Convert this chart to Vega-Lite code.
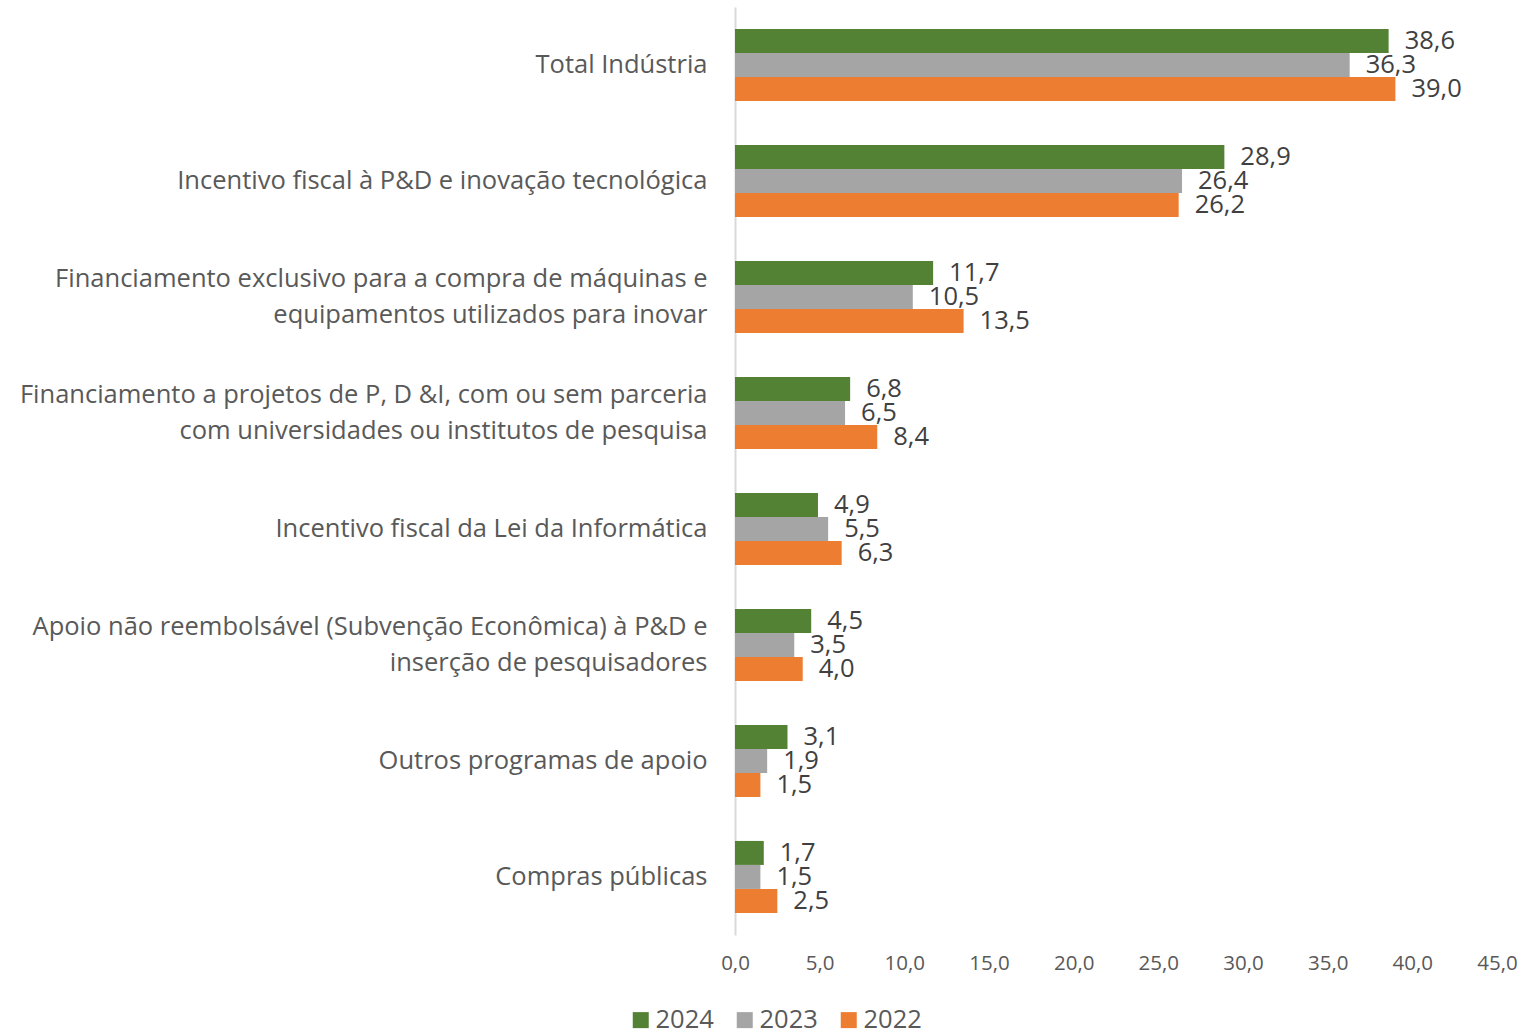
{
  "$schema": "https://vega.github.io/schema/vega-lite/v6.json",
  "width": 762,
  "height": 928,
  "autosize": {"type": "none"},
  "padding": {"left": 735, "top": 7, "right": 24, "bottom": 100},
  "background": "white",
  "config": {
    "locale": {"number": {"decimal": ",", "thousands": ".", "grouping": [3], "currency": ["R$", ""]}},
    "view": {"stroke": null},
    "font": "Open Sans"
  },
  "data": {
    "values": [
      {"cat": "Total Indústria", "ano": "2024", "v": 38.6},
      {"cat": "Total Indústria", "ano": "2023", "v": 36.3},
      {"cat": "Total Indústria", "ano": "2022", "v": 39.0},
      {"cat": "Incentivo fiscal à P&D e inovação tecnológica", "ano": "2024", "v": 28.9},
      {"cat": "Incentivo fiscal à P&D e inovação tecnológica", "ano": "2023", "v": 26.4},
      {"cat": "Incentivo fiscal à P&D e inovação tecnológica", "ano": "2022", "v": 26.2},
      {"cat": "Financiamento exclusivo para a compra de máquinas e|equipamentos utilizados para inovar", "ano": "2024", "v": 11.7},
      {"cat": "Financiamento exclusivo para a compra de máquinas e|equipamentos utilizados para inovar", "ano": "2023", "v": 10.5},
      {"cat": "Financiamento exclusivo para a compra de máquinas e|equipamentos utilizados para inovar", "ano": "2022", "v": 13.5},
      {"cat": "Financiamento a projetos de P, D &I, com ou sem parceria|com universidades ou institutos de pesquisa", "ano": "2024", "v": 6.8},
      {"cat": "Financiamento a projetos de P, D &I, com ou sem parceria|com universidades ou institutos de pesquisa", "ano": "2023", "v": 6.5},
      {"cat": "Financiamento a projetos de P, D &I, com ou sem parceria|com universidades ou institutos de pesquisa", "ano": "2022", "v": 8.4},
      {"cat": "Incentivo fiscal da Lei da Informática", "ano": "2024", "v": 4.9},
      {"cat": "Incentivo fiscal da Lei da Informática", "ano": "2023", "v": 5.5},
      {"cat": "Incentivo fiscal da Lei da Informática", "ano": "2022", "v": 6.3},
      {"cat": "Apoio não reembolsável (Subvenção Econômica) à P&D e|inserção de pesquisadores", "ano": "2024", "v": 4.5},
      {"cat": "Apoio não reembolsável (Subvenção Econômica) à P&D e|inserção de pesquisadores", "ano": "2023", "v": 3.5},
      {"cat": "Apoio não reembolsável (Subvenção Econômica) à P&D e|inserção de pesquisadores", "ano": "2022", "v": 4.0},
      {"cat": "Outros programas de apoio", "ano": "2024", "v": 3.1},
      {"cat": "Outros programas de apoio", "ano": "2023", "v": 1.9},
      {"cat": "Outros programas de apoio", "ano": "2022", "v": 1.5},
      {"cat": "Compras públicas", "ano": "2024", "v": 1.7},
      {"cat": "Compras públicas", "ano": "2023", "v": 1.5},
      {"cat": "Compras públicas", "ano": "2022", "v": 2.5}
    ]
  },
  "encoding": {
    "y": {
      "field": "cat", "type": "nominal", "sort": null, "title": null,
      "scale": {"paddingInner": 0.379, "paddingOuter": 0.19},
      "axis": {
        "labelExpr": "split(datum.label, '|')",
        "labelFontSize": 25.5, "labelColor": "#595959", "labelLineHeight": 36,
        "labelPadding": 28, "labelLimit": 1000, "ticks": false,
        "labelOffset": {"condition": {"test": "indexof(datum.value, '|') >= 0", "value": -18}, "value": 0},
        "domainColor": "#D9D9D9", "domainWidth": 2, "grid": false
      }
    },
    "yOffset": {"field": "ano", "type": "nominal", "sort": ["2024", "2023", "2022"], "scale": {"paddingInner": 0, "paddingOuter": 0}},
    "x": {
      "field": "v", "type": "quantitative", "title": null,
      "scale": {"domain": [0, 45], "nice": false},
      "axis": {
        "values": [0, 5, 10, 15, 20, 25, 30, 35, 40, 45], "format": ".1f",
        "domain": false, "ticks": false, "grid": false,
        "labelFontSize": 20.5, "labelColor": "#595959", "labelPadding": 18,
        "labelFlush": false
      }
    }
  },
  "layer": [
    {
      "mark": {"type": "bar"},
      "encoding": {
        "color": {
          "field": "ano", "type": "nominal",
          "scale": {"domain": ["2024", "2023", "2022"], "range": ["#548235", "#A5A5A5", "#ED7D31"]},
          "legend": {
            "title": null, "orient": "none", "direction": "horizontal",
            "legendX": -107, "legendY": 1000,
            "symbolType": "square", "symbolSize": 256, "symbolStrokeWidth": 0,
            "labelFontSize": 25.5, "labelColor": "#595959", "columnPadding": 18,
            "labelOffset": 2
          }
        }
      }
    },
    {
      "mark": {"type": "text", "align": "left", "dx": 16, "fontSize": 25.5, "color": "#404040", "baseline": "middle"},
      "encoding": {
        "text": {"field": "v", "type": "quantitative", "format": ".1f"}
      }
    }
  ]
}
